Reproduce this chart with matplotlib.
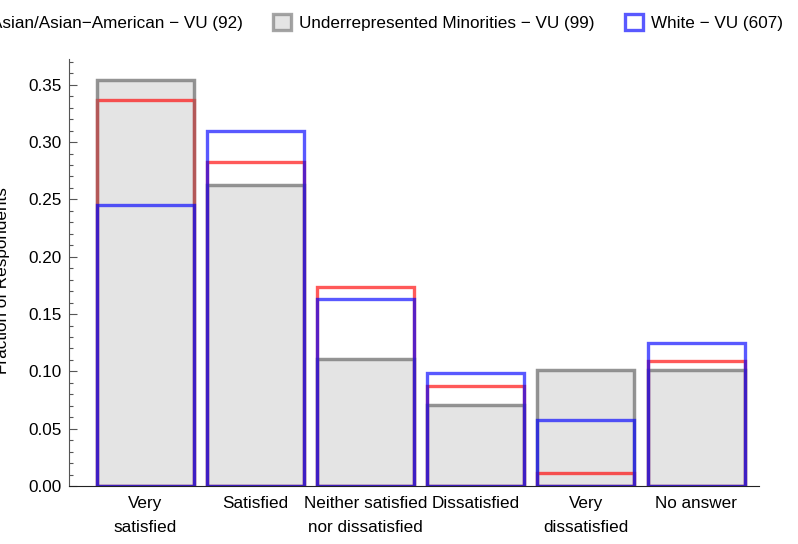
import matplotlib
matplotlib.use('Agg')
import matplotlib.pyplot as plt
from matplotlib.patches import Patch
from matplotlib.ticker import MultipleLocator
import numpy as np

plt.rcParams['font.family'] = ['Liberation Sans', 'DejaVu Sans']
plt.rcParams['font.size'] = 12.3

categories = ['Very\nsatisfied', 'Satisfied', 'Neither satisfied\nnor dissatisfied',
              'Dissatisfied', 'Very\ndissatisfied', 'No answer']

# fraction of respondents per answer
asian = [0.337, 0.283, 0.174, 0.087, 0.011, 0.109]
urm = [0.354, 0.263, 0.111, 0.071, 0.101, 0.101]
white = [0.245, 0.310, 0.163, 0.099, 0.058, 0.125]

labels = ['Asian/Asian\u2212American \u2212 VU (92)',
          'Underrepresented Minorities \u2212 VU (99)',
          'White \u2212 VU (607)']

red = (1.0, 0.0, 0.0, 0.65)
blue = (0.0, 0.0, 1.0, 0.65)
grey = (0.5, 0.5, 0.5, 0.7)
fill = '#e4e4e4'

fig = plt.figure(figsize=(7.98, 5.44), dpi=100)
ax = fig.add_axes([0.0865, 0.1066, 0.8645, 0.785])

x = np.arange(len(categories))
w = 0.88
lw = 2.4

ax.bar(x, urm, width=w, color=fill, edgecolor=grey, linewidth=lw, zorder=2)
ax.bar(x, asian, width=w, color='none', edgecolor=red, linewidth=lw, zorder=3)
# grey outline again, faint, so it tints the red sides like the original
ax.bar(x, urm, width=w, color='none', edgecolor=(0.5, 0.5, 0.5, 0.45), linewidth=lw, zorder=3.5)
ax.bar(x, white, width=w, color='none', edgecolor=blue, linewidth=lw, zorder=4)

ax.set_xlim(-0.69, 5.57)
ax.set_ylim(0, 0.3725)
ax.yaxis.set_major_locator(MultipleLocator(0.05))
ax.yaxis.set_minor_locator(MultipleLocator(0.01))
ax.set_yticklabels(['%.2f' % v for v in ax.get_yticks()])
ax.set_xticks(x)
ax.set_xticklabels(categories, linespacing=1.75)

for s in ['top', 'right']:
    ax.spines[s].set_visible(False)
ax.spines['left'].set_color('#555555')
ax.spines['bottom'].set_color('#222222')
ax.spines['left'].set_zorder(5)
ax.spines['bottom'].set_zorder(5)

ax.tick_params(axis='y', which='major', direction='in', length=6, width=0.8, color='#555555', pad=5)
ax.tick_params(axis='y', which='minor', direction='in', length=3, width=0.8, color='#555555')
ax.tick_params(axis='x', which='major', direction='in', length=3, width=0.8, color='#222222', pad=7)

fig.text(0.003, 0.485, 'Fraction of Respondents', rotation=90, ha='center', va='center')

handles = [Patch(facecolor='white', edgecolor=red, linewidth=lw),
           Patch(facecolor=fill, edgecolor=grey, linewidth=lw),
           Patch(facecolor='white', edgecolor=blue, linewidth=lw)]
fig.legend(handles, labels, loc='center right', bbox_to_anchor=(0.981, 0.958), ncol=3,
           frameon=False, handlelength=1.05, handleheight=1.05, handletextpad=0.45,
           columnspacing=1.8, borderaxespad=0, borderpad=0)

fig.savefig('out.png', dpi=100)
